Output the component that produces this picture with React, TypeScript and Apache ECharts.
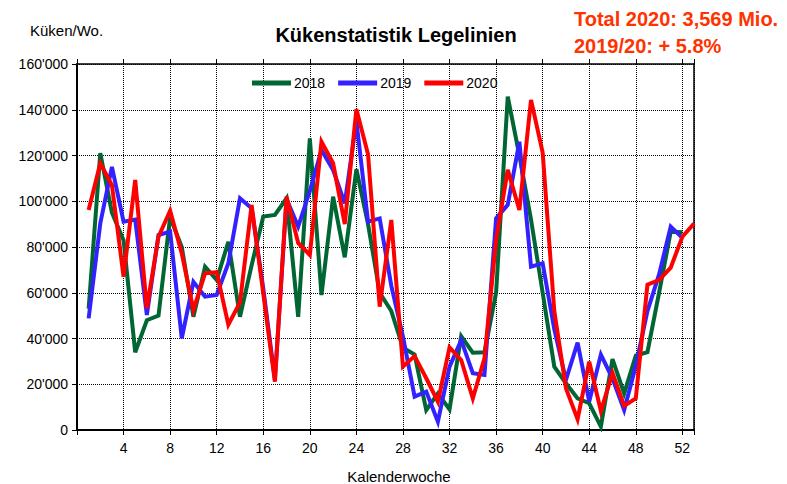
import React, { useEffect, useRef } from "react";
import * as echarts from "echarts";

const WEEKS_52 = Array.from({ length: 52 }, (_, i) => i + 1);
const WEEKS_53 = Array.from({ length: 53 }, (_, i) => i + 1);

const SERIES_NAMES = ["2018", "2019", "2020"];
const SERIES_COLORS = ["#006633", "#3322ff", "#ff0000"];

const values2018 = [
  53000, 121000, 95000, 83000, 34000, 48000, 50000, 93000, 80000, 49500,
  71400, 65600, 82300, 49500, 72000, 93300, 94000, 101300, 49500, 127500,
  59000, 102000, 75500, 114000, 90000, 60000, 52000, 36000, 33000, 8700,
  16000, 9000, 41000, 33800, 34000, 60000, 145700, 120000, 92000, 60000,
  27700, 20400, 13800, 11700, 1500, 31000, 16000, 32500, 34000, 60000,
  86700, 86500,
];

const values2019 = [
  48800, 90300, 115000, 91100, 92000, 50300, 85200, 86700, 40100, 64800,
  58300, 59000, 72900, 101300, 96900, 62000, 22000, 101000, 88900, 104500,
  122400, 113700, 99100, 135000, 91100, 92500, 63000, 40800, 14600, 16800,
  3600, 27700, 39300, 24800, 24100, 92500, 98400, 126000, 71400, 72900,
  44000, 21900, 38200, 12400, 33000, 22500, 8700, 28000, 52000, 68000,
  88900, 84000,
];

const values2020 = [
  96200, 116600, 107100, 67000, 109300, 53200, 84500, 95900, 77200, 52500,
  68500, 69000, 46000, 55800, 98400, 59700, 21100, 102000, 81800, 76500,
  126000, 116600, 90000, 140200, 120500, 53900, 91800, 27700, 32300, 22600,
  12400, 36100, 30600, 13800, 31300, 83000, 113700, 96200, 144300, 121300,
  52000, 18200, 4700, 29900, 8300, 25000, 10500, 13800, 63500, 65500,
  71000, 84500, 90200,
];

const TITLE = "Kükenstatistik Legelinien";
const Y_NAME = "Küken/Wo.";
const X_NAME = "Kalenderwoche";
const NOTE_1 = "Total 2020: 3,569 Mio.";
const NOTE_2 = "2019/20: + 5.8%";

const FONT = "'Liberation Sans', Arial, sans-serif";

function fmtThousands(v: number): string {
  const s = String(Math.round(v));
  return s.replace(/\B(?=(\d{3})+(?!\d))/g, "'");
}

export default function App() {
  const ref = useRef<HTMLDivElement>(null);

  useEffect(() => {
    if (!ref.current) return;
    const chart = echarts.init(ref.current, null, { renderer: "svg" });

    const pairs = (weeks: number[], vals: number[]) =>
      weeks.map((w, i) => [w, vals[i]]);

    const seriesData = [
      pairs(WEEKS_52, values2018),
      pairs(WEEKS_52, values2019),
      pairs(WEEKS_53, values2020),
    ];

    chart.setOption({
      animation: false,
      backgroundColor: "#ffffff",
      textStyle: { fontFamily: FONT },
      grid: { left: 77, right: 93, top: 64, bottom: 54, containLabel: false },
      legend: {
        top: 76,
        left: 252,
        padding: 0,
        icon: "rect",
        itemWidth: 39,
        itemHeight: 5,
        itemGap: 13,
        data: SERIES_NAMES,
        textStyle: { fontSize: 14, color: "#000", fontFamily: FONT, padding: [0, 0, 0, -2] },
      },
      xAxis: [
        {
          type: "value",
          min: 0,
          max: 53,
          interval: 4,
          position: "bottom",
          axisLine: { show: true, onZero: false, lineStyle: { color: "#000", width: 2 } },
          axisTick: { show: true, length: 5, lineStyle: { color: "#000", width: 1 } },
          axisLabel: {
            margin: 11,
            fontSize: 14,
            color: "#000",
            fontFamily: FONT,
            formatter: (v: number) => (v > 0 && v % 4 === 0 ? String(v) : ""),
          },
          splitLine: { show: true, lineStyle: { color: "#000", type: "dotted", width: 1 } },
        },
        {
          type: "value",
          min: 0,
          max: 53,
          interval: 4,
          position: "top",
          axisLine: { show: true, onZero: false, lineStyle: { color: "#000", width: 1.5 } },
          axisTick: { show: true, length: 5, lineStyle: { color: "#000", width: 1 } },
          axisLabel: { show: false },
          splitLine: { show: false },
        },
      ],
      yAxis: [
        {
          type: "value",
          min: 0,
          max: 160000,
          interval: 20000,
          axisLine: { show: true, onZero: false, lineStyle: { color: "#000", width: 2 } },
          axisTick: { show: true, length: 5, lineStyle: { color: "#000", width: 1 } },
          axisLabel: {
            margin: 9,
            fontSize: 14,
            color: "#000",
            fontFamily: FONT,
            formatter: (v: number) => fmtThousands(v),
          },
          splitLine: { show: true, lineStyle: { color: "#000", type: "dotted", width: 1 } },
        },
        {
          type: "value",
          min: 0,
          max: 160000,
          interval: 20000,
          position: "right",
          axisLine: { show: true, onZero: false, lineStyle: { color: "#000", width: 1.5 } },
          axisTick: { show: false },
          axisLabel: { show: false },
          splitLine: { show: false },
        },
      ],
      series: SERIES_NAMES.map((name, i) => ({
        name,
        type: "line",
        xAxisIndex: 0,
        yAxisIndex: 0,
        data: seriesData[i],
        showSymbol: false,
        symbol: "none",
        color: SERIES_COLORS[i],
        lineStyle: { color: SERIES_COLORS[i], width: 4, join: "miter" },
        z: 2 + i,
      })),
      graphic: [
        {
          type: "text",
          left: 30,
          top: 23,
          style: { text: Y_NAME, fontSize: 15, fill: "#000", fontFamily: FONT },
        },
        {
          type: "text",
          x: 396,
          y: 35,
          style: {
            text: TITLE,
            fontSize: 20,
            fontWeight: "bold",
            fill: "#000",
            fontFamily: FONT,
            textAlign: "center",
            textVerticalAlign: "middle",
          },
        },
        {
          type: "text",
          x: 574,
          y: 19,
          style: {
            text: NOTE_1,
            fontSize: 20,
            fontWeight: "bold",
            fill: "#ff3300",
            fontFamily: FONT,
            textAlign: "left",
            textVerticalAlign: "middle",
          },
        },
        {
          type: "text",
          x: 574,
          y: 46,
          style: {
            text: NOTE_2,
            fontSize: 20,
            fontWeight: "bold",
            fill: "#ff3300",
            fontFamily: FONT,
            textAlign: "left",
            textVerticalAlign: "middle",
          },
        },
        {
          type: "text",
          x: 399,
          y: 476,
          style: {
            text: X_NAME,
            fontSize: 15,
            fill: "#000",
            fontFamily: FONT,
            textAlign: "center",
            textVerticalAlign: "middle",
          },
        },
      ],
    });

    return () => chart.dispose();
  }, []);

  return (
    <div
      ref={ref}
      style={{ position: "fixed", left: 0, top: 0, width: 787, height: 484, background: "#fff" }}
    />
  );
}
